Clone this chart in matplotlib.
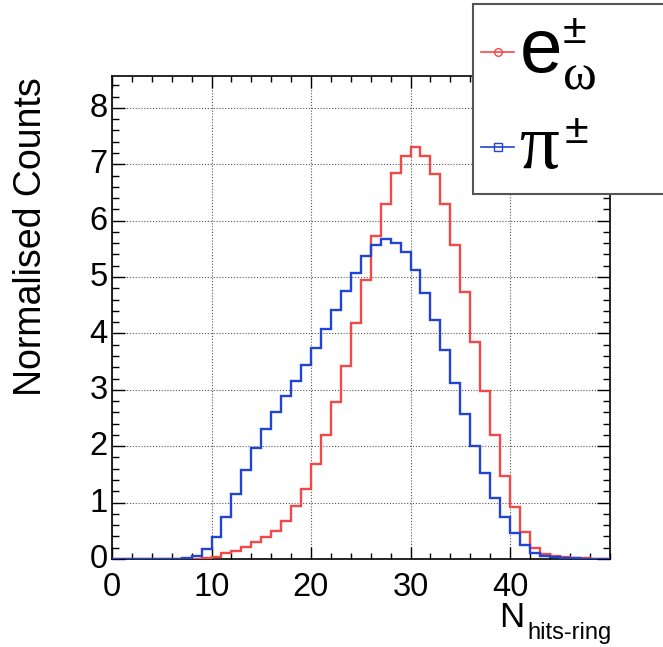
import matplotlib
matplotlib.use('Agg')
import matplotlib.pyplot as plt
import numpy as np
from matplotlib.ticker import MultipleLocator
from matplotlib.lines import Line2D
from matplotlib.patches import Rectangle
import matplotlib.transforms as mtransforms

plt.rcParams['font.family'] = ['Liberation Sans', 'DejaVu Sans']

# ---------------- data ----------------
bin_edges = list(range(0, 51))
electron_counts = [0, 0, 0, 0, 0, 0, 0, 0.002, 0.005, 0.015,
                   0.04, 0.10, 0.15, 0.22, 0.30, 0.39, 0.50, 0.68, 0.94, 1.24,
                   1.69, 2.19, 2.79, 3.42, 4.18, 4.95, 5.73, 6.29, 6.85, 7.15,
                   7.31, 7.15, 6.83, 6.29, 5.57, 4.73, 3.85, 2.98, 2.20, 1.48,
                   0.93, 0.47, 0.19, 0.08, 0.05, 0.04, 0.02, 0.01, 0.005, 0.003]
pion_counts = [0, 0, 0, 0, 0, 0, 0.003, 0.015, 0.06, 0.18,
               0.39, 0.74, 1.16, 1.58, 1.96, 2.30, 2.60, 2.89, 3.16, 3.44,
               3.74, 4.08, 4.41, 4.76, 5.08, 5.37, 5.56, 5.68, 5.61, 5.45,
               5.12, 4.72, 4.24, 3.71, 3.12, 2.57, 2.01, 1.53, 1.09, 0.75,
               0.46, 0.24, 0.11, 0.06, 0.03, 0.02, 0.01, 0.005, 0.003, 0.002]
x_ticks = [0, 10, 20, 30, 40]
y_ticks = [0, 1, 2, 3, 4, 5, 6, 7, 8]
x_limits = (0, 50)
y_limits = (0, 8.57)
ylabel_text = "Normalised Counts"
xlabel_main = "N"
xlabel_sub = "hits-ring"

RED = '#f34848'
BLUE = '#2244d2'

# ---------------- figure ----------------
W, H = 663, 647
fig = plt.figure(figsize=(W / 100, H / 100), dpi=100)
fig.patch.set_facecolor('white')
ax = fig.add_axes([112 / W, 1 - 559 / H, (609.5 - 112) / W, (559 - 75.7) / H])

ax.stairs(electron_counts, bin_edges, baseline=None, color=RED, lw=1.7, zorder=3)
ax.stairs(pion_counts, bin_edges, baseline=None, color=BLUE, lw=1.7, zorder=3)

ax.set_xlim(*x_limits)
ax.set_ylim(*y_limits)
ax.set_xticks(x_ticks)
ax.set_yticks(y_ticks)
ax.xaxis.set_minor_locator(MultipleLocator(2))
ax.yaxis.set_minor_locator(MultipleLocator(0.2))

ax.grid(True, which='major', linestyle=(0, (1, 1.6)), color='#555555', lw=0.8)
ax.set_axisbelow(True)

for s in ax.spines.values():
    s.set_linewidth(1.2)
    s.set_color('black')

ax.tick_params(axis='x', which='major', direction='in', top=True, bottom=True,
               length=8.6, width=1.0, labelsize=23.5, pad=9)
ax.tick_params(axis='x', which='minor', direction='in', top=True, bottom=True,
               length=4.5, width=1.0)
ax.tick_params(axis='y', which='major', direction='in', left=True, right=True,
               length=9.4, width=1.0, labelsize=23.5, pad=3)
ax.tick_params(axis='y', which='minor', direction='in', left=True, right=True,
               length=4.7, width=1.0)

off = mtransforms.ScaledTranslation(0, 2 / 72, fig.dpi_scale_trans)
for lab in ax.get_yticklabels():
    lab.set_transform(lab.get_transform() + off)

# pixel transform (origin top-left)
pxT = mtransforms.Affine2D().scale(1 / W, -1 / H).translate(0, 1) + fig.transFigure

# axis titles
fig.text(31, 77, ylabel_text, transform=pxT, rotation=90, ha='center', va='top',
         fontsize=27)
fig.text(499, 627, xlabel_main, transform=pxT, ha='left', va='baseline', fontsize=25)
fig.text(527, 639, xlabel_sub, transform=pxT, ha='left', va='baseline', fontsize=17)

# legend
box = Rectangle((473, 4), 200, 190, transform=pxT, facecolor='white',
                edgecolor='#555555', lw=1.5, zorder=10)
fig.add_artist(box)
fig.add_artist(Line2D([481, 514], [52, 52], transform=pxT, color=RED, lw=1.2, zorder=11))
fig.add_artist(Line2D([497.5], [52], transform=pxT, color=RED, lw=0, marker='o',
                      markersize=5.5, markerfacecolor='none', markeredgecolor=RED,
                      markeredgewidth=1.0, zorder=12))
fig.add_artist(Line2D([481, 514], [147, 147], transform=pxT, color=BLUE, lw=1.2, zorder=11))
fig.add_artist(Line2D([497.5], [147], transform=pxT, color=BLUE, lw=0, marker='s',
                      markersize=5.5, markerfacecolor='none', markeredgecolor=BLUE,
                      markeredgewidth=1.0, zorder=12))

fig.text(520, 72, "e", transform=pxT, ha='left', va='baseline', fontsize=55, zorder=12)
fig.text(563, 43, "±", transform=pxT, ha='left', va='baseline', fontsize=31, zorder=12)
fig.text(563, 90, "ω", transform=pxT, ha='left', va='baseline', fontsize=37,
         family=['Liberation Serif', 'DejaVu Serif'], zorder=12)
fig.text(520, 168, "π", transform=pxT, ha='left', va='baseline', fontsize=57,
         family=['Liberation Serif', 'DejaVu Serif'], zorder=12)
fig.text(565, 143, "±", transform=pxT, ha='left', va='baseline', fontsize=31, zorder=12)

fig.savefig('out.png', dpi=100, facecolor='white')
